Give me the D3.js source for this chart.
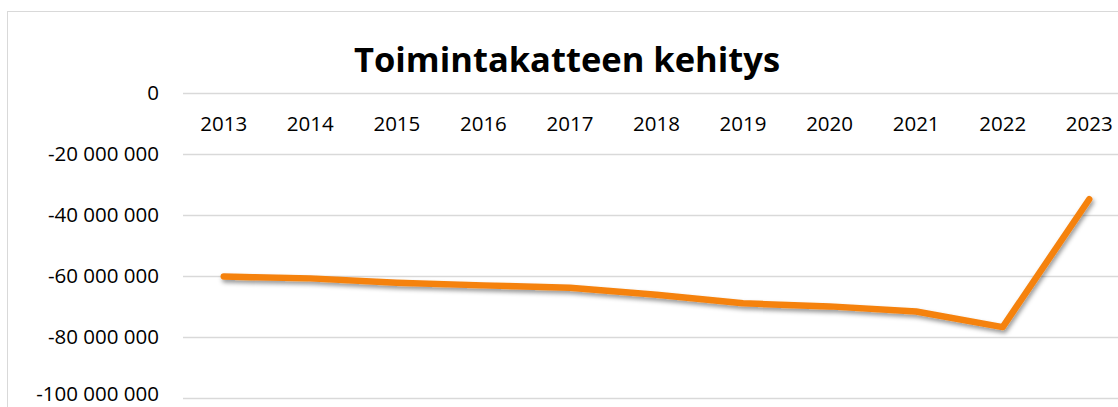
<!DOCTYPE html>
<html>
<head>
<meta charset="utf-8">
<script src="https://cdn.jsdelivr.net/npm/d3@7"></script>
<style>
html,body{margin:0;padding:0;background:#fff;overflow:hidden;}
svg{display:block;}
</style>
</head>
<body>
<svg id="chart" width="1118" height="407"></svg>
<script>
const title = "Toimintakatteen kehitys";
const years = ["2013","2014","2015","2016","2017","2018","2019","2020","2021","2022","2023"];
const values = [-60200000,-60800000,-62200000,-63100000,-63900000,-66200000,-69000000,-70000000,-71700000,-76800000,-34800000];
const yTicks = [0,-20000000,-40000000,-60000000,-80000000,-100000000];

const svg = d3.select("#chart");
const font = "'Open Sans', Lato, sans-serif";

const defs = svg.append("defs");
const f = defs.append("filter").attr("id","shadow").attr("x","-10%").attr("y","-50%").attr("width","120%").attr("height","200%");
f.append("feDropShadow").attr("dx",1.5).attr("dy",3).attr("stdDeviation",2.2).attr("flood-color","#000").attr("flood-opacity",0.4);

// chart border
svg.append("rect").attr("x",7.5).attr("y",11.5).attr("width",1130).attr("height",420)
  .attr("fill","#fff").attr("stroke","#d9d9d9").attr("stroke-width",1);

const x = d3.scalePoint().domain(years).range([180.5,1132.5]).padding(0.5);
const y = d3.scaleLinear().domain([-100000000,0]).range([397.7,93.3]);

// gridlines
svg.append("g").selectAll("line").data(yTicks).join("line")
  .attr("x1",183).attr("x2",1118)
  .attr("y1",d=>Math.round(y(d))+0.5).attr("y2",d=>Math.round(y(d))+0.5)
  .attr("stroke","#d9d9d9").attr("stroke-width",1.3);

// y labels
const fmt = d => d===0 ? "0" : "-" + d3.format(",")(Math.abs(d)).replace(/,/g," ");
svg.append("g").selectAll("text").data(yTicks).join("text")
  .attr("x",159).attr("y",d=>Math.min(y(d), 394)).attr("dy","0.34em")
  .attr("text-anchor","end").attr("font-family",font).attr("font-size",20.5).attr("fill","#000")
  .text(fmt);

// x labels
svg.append("g").selectAll("text").data(years).join("text")
  .attr("x",d=>x(d)).attr("y",124).attr("dy","0.35em")
  .attr("text-anchor","middle").attr("font-family",font).attr("font-size",20.5).attr("fill","#000")
  .text(d=>d);

// line
const line = d3.line().x((d,i)=>x(years[i])).y(d=>y(d));
svg.append("path").datum(values).attr("d",line)
  .attr("fill","none").attr("stroke","#F5820F").attr("stroke-width",6.5)
  .attr("stroke-linecap","round").attr("stroke-linejoin","round")
  .attr("filter","url(#shadow)");

// title
svg.append("text").attr("x",567).attr("y",72)
  .attr("text-anchor","middle").attr("font-family",font).attr("font-weight","bold")
  .attr("font-size",34.5).attr("fill","#000").text(title);
</script>
</body>
</html>
